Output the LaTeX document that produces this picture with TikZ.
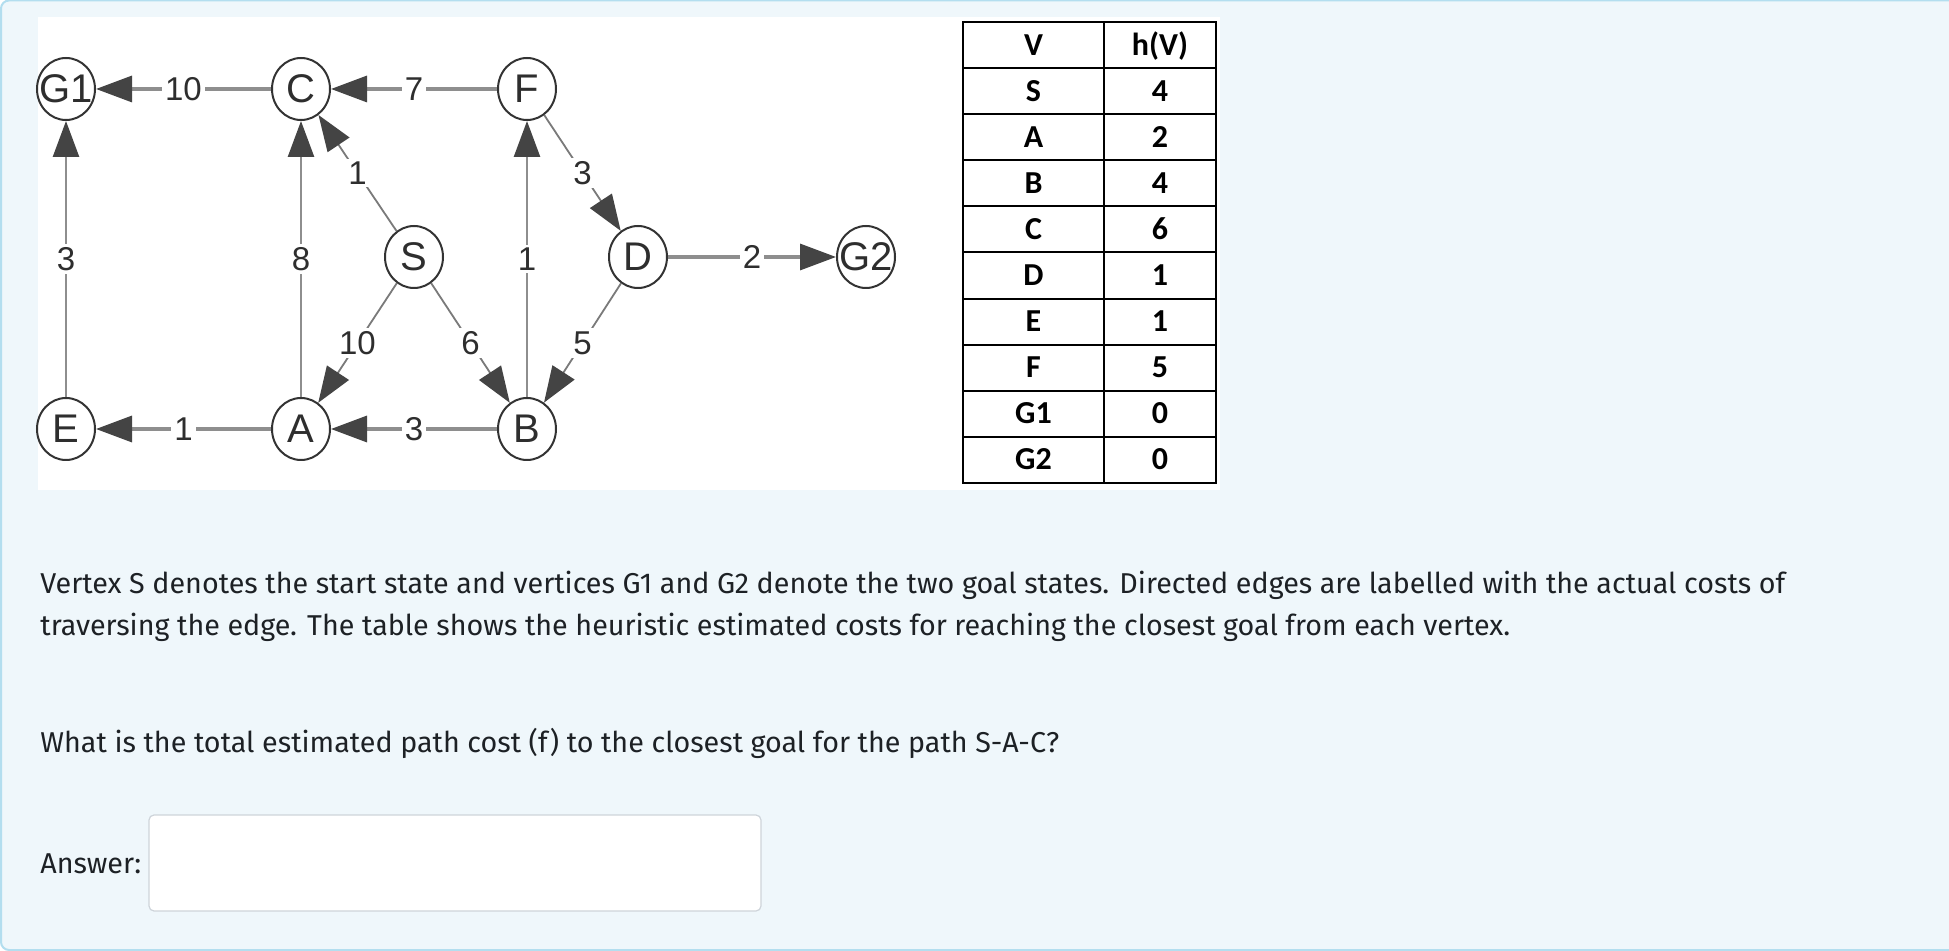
\documentclass[tikz,border=0pt]{standalone}
\usepackage{fontspec}
\setmainfont{Fira Sans}
\newfontfamily\graphfont{Liberation Sans}
\newfontfamily\tablefont{Carlito}
\usetikzlibrary{arrows.meta,shapes.geometric}
\definecolor{panelbg}{HTML}{EFF7FB}
\definecolor{panelborder}{HTML}{B3DEEF}
\definecolor{textcol}{HTML}{1D2125}
\definecolor{edgegray}{HTML}{8E8E8E}
\definecolor{diaggray}{HTML}{7A7A7A}
\definecolor{tipgray}{HTML}{444444}
\definecolor{nodegray}{HTML}{333333}
\definecolor{labelcol}{HTML}{2E2E2E}
\definecolor{boxborder}{HTML}{CED4DA}
\begin{document}
\begin{tikzpicture}[x=0.5pt,y=-0.5pt,
  vtx/.style={ellipse,draw=nodegray,line width=1pt,minimum width=29pt,minimum height=31pt,inner sep=0pt,text=labelcol,font=\graphfont\fontsize{20}{20}\selectfont},
  edgebase/.style={draw=edgegray,-{Triangle[length=18pt,width=13pt,color=tipgray]}},
  hedge/.style={edgebase,line width=1.6pt},
  vedge/.style={edgebase,line width=1.3pt},
  dedge/.style={edgebase,draw=diaggray,line width=0.9pt},
  lbl/.style={fill=white,inner sep=1.5pt,text=labelcol,font=\graphfont\fontsize{16.5}{16.5}\selectfont},
  tcell/.style={inner sep=0pt,text=black,font=\tablefont\bfseries\fontsize{16}{16}\selectfont},
  thead/.style={tcell},
  para/.style={anchor=base west,inner sep=0pt,text=textcol,font=\fontsize{14.35}{14.35}\selectfont},
  tline/.style={draw=black,line width=1pt}
]
\useasboundingbox (0,0) rectangle (1949,951);
% panel
\draw[fill=panelbg,draw=panelborder,line width=1pt,rounded corners=4pt] (1,0.5) rectangle (1975,950);
% graph image background
\fill[white] (38,17) rectangle (1220,490);
% vertices
\node[vtx] (G1) at (66,89) {\makebox[0pt]{G1}};
\node[vtx] (C) at (301,89) {\makebox[0pt]{C}};
\node[vtx] (F) at (527,89) {\makebox[0pt]{F}};
\node[vtx] (S) at (414,257) {\makebox[0pt]{S}};
\node[vtx] (D) at (638,257) {\makebox[0pt]{D}};
\node[vtx] (G2) at (866,257) {\makebox[0pt]{G2}};
\node[vtx] (E) at (66,429) {\makebox[0pt]{E}};
\node[vtx] (A) at (301,429) {\makebox[0pt]{A}};
\node[vtx] (B) at (527,429) {\makebox[0pt]{B}};
% edges
\draw[hedge] (C) -- node[lbl] (l1) {10} (G1);
\draw[hedge] (F) -- node[lbl] (l2) {7} (C);
\draw[vedge] (E) -- node[lbl] (l3) {3} (G1);
\draw[vedge] (A) -- node[lbl] (l4) {8} (C);
\draw[dedge] (S) -- node[lbl] (l5) {1} (C);
\draw[vedge] (B) -- node[lbl] (l6) {1} (F);
\draw[dedge] (F) -- node[lbl] (l7) {3} (D);
\draw[hedge] (D) -- node[lbl] (l8) {2} (G2);
\draw[dedge] (S) -- node[lbl] (l9) {10} (A);
\draw[dedge] (S) -- node[lbl] (l10) {6} (B);
\draw[dedge] (D) -- node[lbl] (l11) {5} (B);
\draw[hedge] (A) -- node[lbl] (l12) {1} (E);
\draw[hedge] (B) -- node[lbl] (l13) {3} (A);
% table
\draw[tline] (963,22) rectangle (1216,483);
\draw[tline] (1104,22) -- (1104,483);
\foreach \i in {1,...,9} \draw[tline] (963,{22+46.1*\i}) -- (1216,{22+46.1*\i});
\node[thead,anchor=base] (hv) at (1033.5,{22+46.1*0.5+10}) {V};
\node[thead,anchor=base] (hh) at (1160,{22+46.1*0.5+10}) {h(V)};
\foreach \v/\h [count=\i] in {S/4,A/2,B/4,C/6,D/1,E/1,F/5,G1/0,G2/0} {
  \node[tcell,anchor=base] (tv\i) at (1033.5,{22+46.1*(\i+0.5)+10}) {\v};
  \node[tcell,anchor=base] (th\i) at (1160,{22+46.1*(\i+0.5)+10}) {\h};
}
% text
\node[para] (p1) at (40,594) {Vertex S denotes the start state and vertices G1 and G2 denote the two goal states. Directed edges are labelled with the actual costs of};
\node[para] (p2) at (40,636) {traversing the edge. The table shows the heuristic estimated costs for reaching the closest goal from each vertex.};
\node[para] (q) at (40,752) {What is the total estimated path cost (f) to the closest goal for the path S-A-C?};
\node[para] (ans) at (40,873) {Answer:};
\draw[fill=white,draw=boxborder,line width=0.6pt,rounded corners=2.5pt] (149,815) rectangle (761,911);
\end{tikzpicture}
\end{document}
